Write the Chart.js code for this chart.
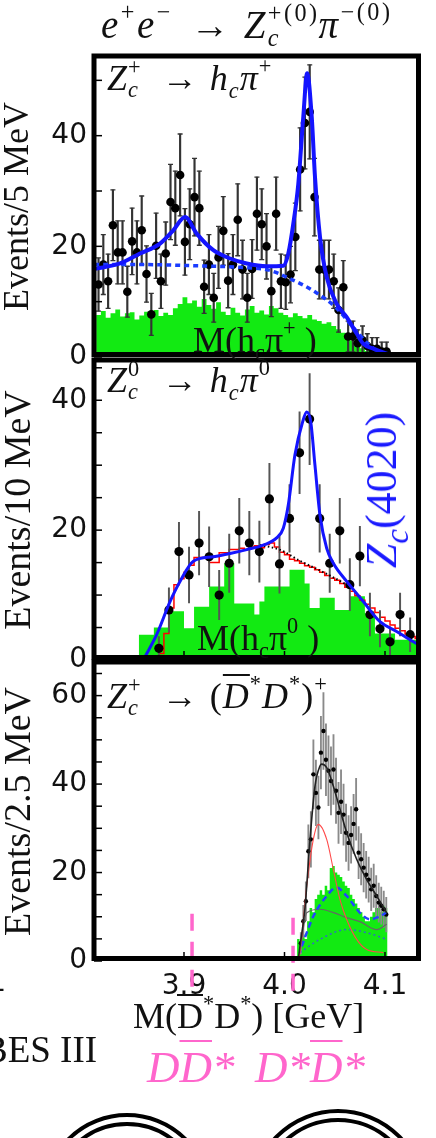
<!DOCTYPE html>
<html>
<head>
<meta charset="utf-8">
<script src="https://cdn.jsdelivr.net/npm/chart.js@4.4.1/dist/chart.umd.min.js"></script>
<style>
  html, body { margin:0; padding:0; background:#fff; }
  #page { position:relative; width:436px; height:1138px; overflow:hidden; background:#fff; }
  canvas { position:absolute; left:0; }
  .lbl { position:absolute; font-family:"Liberation Serif", "Times New Roman", serif; line-height:1; white-space:nowrap; color:#111; }
  .lbl i { font-style:italic; }
  .up, .dn { font-size:.62em; position:relative; }
  .up { top:-.75em; }
  .dn { top:.35em; }
  .ss { display:inline-block; position:relative; height:0; font-size:.62em; }
  .ss > span { position:absolute; left:0; line-height:1; white-space:nowrap; }
  .ss .a { bottom:.52em; }
  .ss .b { top:-.48em; }
  .ar { margin:0 .3em 0 .45em; }
  .ovl { text-decoration:overline; text-decoration-thickness:2px; }
  .ring { position:absolute; border:4.5px solid #000; border-radius:50%; box-sizing:border-box; }
</style>
</head>
<body>
<div id="page">
  <canvas id="c1" width="436" height="361" style="top:26px"></canvas>
  <canvas id="c2" width="436" height="360" style="top:330px"></canvas>
  <canvas id="c3" width="436" height="399" style="top:632px"></canvas>

  <div class="lbl" style="left:101px;top:5px;font-size:39px;letter-spacing:2.5px"><i>e</i><span class="up">+</span><i>e</i><span class="up">−</span><span class="ar">→</span><i>Z</i><span class="ss" style="width:2.1em"><span class="a">+(0)</span><span class="b"><i>c</i></span></span><i>π</i><span class="up">−(0)</span></div>

  <div class="lbl" style="left:107px;top:60px;font-size:36px;letter-spacing:1px"><i>Z</i><span class="ss" style="width:.8em"><span class="a">+</span><span class="b"><i>c</i></span></span><span class="ar">→</span><i>h</i><span class="dn"><i>c</i></span><i>π</i><span class="up">+</span></div>
  <div class="lbl" style="left:193px;top:322px;font-size:36px">M(h<span class="dn">c</span>π<span class="up">+</span> )</div>

  <div class="lbl" style="left:107px;top:362px;font-size:36px;letter-spacing:1px"><i>Z</i><span class="ss" style="width:.8em"><span class="a">0</span><span class="b"><i>c</i></span></span><span class="ar">→</span><i>h</i><span class="dn"><i>c</i></span><i>π</i><span class="up">0</span></div>
  <div class="lbl" style="left:197px;top:620px;font-size:36px">M(h<span class="dn">c</span>π<span class="up">0</span> )</div>
  <div class="lbl" style="left:382px;top:490px;font-size:44px;color:#1a1aff;transform:translate(-50%,-50%) rotate(-90deg)"><i>Z</i><span class="dn" style="font-size:.75em"><i>c</i></span>(4020)</div>

  <div class="lbl" style="left:107px;top:678px;font-size:36px;letter-spacing:1px"><i>Z</i><span class="ss" style="width:.8em"><span class="a">+</span><span class="b"><i>c</i></span></span><span class="ar">→</span>(<i class="ovl">D</i><span class="up">*</span><i>D</i><span class="up">*</span>)<span class="up">+</span></div>

  <div class="lbl" style="left:133px;top:998px;font-size:36px">M(<span class="ovl">D</span><span class="up">*</span>D<span class="up">*</span>) [GeV]</div>
  <div class="lbl" style="left:-17px;top:1031px;font-size:37px">BES III</div>
  <div class="lbl" style="left:-40px;top:968px;width:46px;text-align:right;font-family:'DejaVu Sans';font-size:28px">4.1</div>

  <div class="lbl" style="left:147px;top:1045px;font-size:45px;color:#ff66cc"><i>D</i><i class="ovl">D</i><i>*</i></div>
  <div class="lbl" style="left:255px;top:1045px;font-size:45px;color:#ff66cc"><i>D</i><i>*</i><i class="ovl">D</i><i>*</i></div>

  <div class="ring" style="left:42px;top:1113px;width:170px;height:170px"></div>
  <div class="ring" style="left:51px;top:1122px;width:152px;height:152px"></div>
  <div class="ring" style="left:250px;top:1109px;width:176px;height:176px"></div>
  <div class="ring" style="left:259px;top:1118px;width:158px;height:158px"></div>
</div>

<script>
// ---------------- panel 1 : Zc+ -> hc pi+  (5 MeV bins) ----------------
const p1BinStart = 3.8025, p1BinWidth = 0.005;
const p1Counts = [13.1, 16.7, 13.7, 23.8, 18.9, 18.9, 11.8, 20.9, 18.9, 22.9, 15.0, 7.7, 20.1, 13.7, 18.7, 28.0,
  26.9, 32.9, 20.8, 24.0, 28.9, 26.9, 12.7, 16.7, 10.7, 18.0, 22.8, 13.8, 16.7, 24.8, 15.8, 10.7, 15.9, 25.9,
  24.0, 20.0, 11.9, 25.9, 13.7, 13.5, 14.9, 21.7, 33.9, 42.3, 44.3, 28.9, 15.8, 15.8, 15.8, 13.7, 8.5, 12.6,
  3.7, 3.7, 2.5, 3.0, 2.0, 1.5, 1.5, 1.0, 1.0];
const p1Errors = [4.8, 5.4, 4.9, 6.4, 5.7, 5.7, 4.6, 6.0, 5.7, 6.2, 5.1, 3.8, 5.9, 4.9, 5.7, 6.8, 6.7, 7.4, 6.0,
  6.4, 7.0, 6.7, 4.8, 5.4, 4.4, 5.6, 6.2, 4.9, 5.4, 6.5, 5.3, 4.4, 5.3, 6.6, 6.4, 5.9, 4.6, 6.6, 4.9, 4.9, 5.1,
  6.1, 7.5, 8.3, 8.5, 7.0, 5.3, 5.3, 5.3, 4.9, 4.0, 4.8, 2.8, 2.8, 2.4, 2.6, 2.2, 2.0, 2.0, 1.7, 1.7];
const p1GreenStart = 3.800;
const p1Green = [7.6, 8.3, 7.1, 7.9, 8.6, 7.3, 7.9, 8.1, 6.8, 7.5, 8.2, 7.7, 8.5, 7.4, 8.0, 7.6, 8.8,
  9.6, 10.8, 9.7, 10.2, 9.1, 10.5, 9.4, 8.7, 9.9, 8.2, 7.6, 8.9, 8.0, 7.5, 8.6, 9.2, 8.0, 8.4, 7.7,
  9.2, 8.8, 8.0, 7.6, 7.2, 7.9, 7.4, 7.0, 7.6, 6.8, 6.5, 6.0, 6.3, 5.6, 5.0, 4.4, 3.6,
  3.0, 2.4, 1.6, 1.1, 0.6, 0.4, 0.2, 0.1, 0];
const p1FitX = [3.798, 3.8249, 3.8457, 3.8666, 3.8804, 3.8926, 3.9048, 3.9221, 3.9395, 3.9569, 3.9777, 3.9950,
  4.0002, 4.0054, 4.0106, 4.0158, 4.0198, 4.0246, 4.0280, 4.0332, 4.0402, 4.0506, 4.0610, 4.0715, 4.0783,
  4.0887, 4.1027, 4.1166];
const p1FitY = [15.9, 16.9, 18.7, 20.5, 22.9, 25.3, 22.3, 19.3, 17.8, 16.9, 16.4, 16.5, 18.7, 24.1, 31.3, 43.4,
  51.3, 43.4, 32.5, 21.7, 14.4, 9.6, 7.2, 4.2, 2.4, 1.5, 0.6, 0];
const p1BkgX = [3.798, 3.85, 3.90, 3.95, 3.98, 4.005, 4.026, 4.05, 4.068, 4.085, 4.10, 4.115];
const p1BkgY = [16.7, 16.7, 16.5, 16.2, 15.7, 13.9, 12.0, 8.9, 5.3, 2.1, 0.5, 0];
const p1YTicks = [0, 10, 20, 30, 40, 50];
const p1YLabels = [0, 20, 40];

// ---------------- panel 2 : Zc0 -> hc pi0  (10 MeV bins) ----------------
const p2BinStart = 3.875, p2BinWidth = 0.01;
const p2Counts = [1.8, 7.7, 16.7, 13.1, 18.0, 15.9, 10.0, 14.9, 19.9, 18.0, 16.7, 24.8, 14.8, 21.8, 31.9, 37.1,
  21.8, 14.9, 19.9, 11.6, 16.0, 7.0, 4.8, 2.8, 7.0, 3.9];
const p2Errors = [1.8, 3.4, 4.5, 4.3, 4.9, 4.6, 3.8, 4.5, 5.0, 4.9, 4.7, 5.5, 4.5, 5.2, 6.3, 7.0, 5.2, 4.5, 5.0,
  4.0, 4.6, 3.3, 2.8, 2.3, 3.3, 2.6];
const p2GreenStart = 3.855, p2StepWidth = 0.005;
const p2Green = [3.9, 3.9, 3.9, 5.0, 5.0, 5.0, 7.5, 7.5, 7.5, 4.9, 4.9, 8.2, 8.2, 8.2, 11.3, 11.3, 11.3, 14.9, 14.9,
  8.7, 8.7, 8.7, 8.7, 7.0, 9.0, 11.3, 11.3, 11.3, 11.3, 11.3, 13.9, 13.9, 13.9, 11.8, 8.0, 8.0, 9.6, 9.6, 9.6,
  7.7, 7.7, 7.7, 9.8, 9.8, 9.8, 7.2, 7.2, 4.1, 4.1, 4.1, 4.1, 3.1, 3.1, 3.1, 3.1, 3.1];
const p2RedStart = 3.875;
const p2Red = [1.0, 4.1, 8.0, 11.6, 12.5, 13.5, 14.6, 15.8, 15.8, 15.8, 15.0, 15.0, 16.5, 16.5, 17.0, 17.0, 17.2,
  17.0, 17.4, 17.6, 17.3, 17.8, 18.0, 17.4, 16.6, 16.2, 15.5, 15.3, 14.9, 14.5, 14.3, 13.9, 13.5, 13.0, 12.6,
  12.3, 11.8, 11.2, 10.6, 9.9, 9.2, 8.6, 8.0, 7.3, 6.6, 6.0, 5.4, 4.9, 4.5, 4.0, 3.6, 3.3];
const p2FitX = [3.8612, 3.8728, 3.8861, 3.8960, 3.9093, 3.9292, 3.9458, 3.9624, 3.9789, 3.9922, 3.9988, 4.0038,
  4.0104, 4.0181, 4.0221, 4.0261, 4.0303, 4.0353, 4.0420, 4.0486, 4.0619, 4.0784, 4.0950, 4.1116, 4.1282, 4.1333];
const p2FitY = [0.5, 3.9, 9.0, 12.1, 15.2, 15.9, 16.4, 17.0, 17.7, 18.8, 20.3, 23.9, 31.6, 36.7, 38.2, 36.7, 30.0,
  22.3, 17.2, 14.9, 12.1, 9.0, 5.9, 4.4, 2.8, 2.4];
const p2DotX = [3.9756, 3.995, 4.015, 4.035, 4.050, 4.0619];
const p2DotY = [17.7, 17.0, 15.3, 13.8, 12.6, 11.6];
const p2YTicks = [0, 5, 10, 15, 20, 25, 30, 35, 40, 45];
const p2YLabels = [0, 20, 40];

// ---------------- panel 3 : Zc+ -> (D*bar D*)+  (2.5 MeV bins) ----------------
const p3BinStart = 4.01625, p3BinWidth = 0.0025;
const p3Counts = [4.0, 9.0, 13.5, 24.8, 27.5, 42.2, 38.0, 34.7, 47.1, 52.0, 45.5, 43.0, 40.7, 43.3, 38.5, 33.5,
  36.0, 33.1, 29.0, 26.7, 28.5, 31.0, 34.3, 24.5, 23.0, 21.1, 19.5, 18.4, 16.2, 17.0, 14.7, 13.2, 12.5, 11.7, 10.5];
const p3Errors = [2.4, 3.6, 4.4, 6.0, 6.3, 7.8, 7.4, 7.1, 8.2, 8.7, 8.1, 7.9, 7.7, 7.9, 7.4, 6.9, 7.2, 6.9, 6.5,
  6.2, 6.4, 6.7, 7.0, 5.9, 5.8, 5.5, 5.3, 5.1, 4.8, 4.9, 4.6, 4.4, 4.2, 4.1, 3.9];
const p3GreenStart = 4.0125;
const p3Green = [5, 4, 6, 5, 9, 12, 11, 14, 15, 16, 15, 17, 16, 21, 21.5, 20, 19.5, 19, 18, 17, 16.5, 15, 14, 13,
  12, 11, 10, 9, 9, 10, 11, 12, 12, 11, 12.5, 12];
const p3FitX = [4.0135, 4.0154, 4.0204, 4.0254, 4.0303, 4.0353, 4.0370, 4.0420, 4.0486, 4.0552, 4.0619, 4.0718,
  4.0818, 4.0917, 4.1017];
const p3FitY = [0, 3.3, 12.0, 27.5, 39.5, 44.1, 44.5, 43.7, 39.5, 34.3, 29.0, 23.0, 18.4, 14.7, 10.9];
const p3SigX = [4.0135, 4.0154, 4.0221, 4.0287, 4.0336, 4.0420, 4.0486, 4.0552, 4.0619, 4.0718, 4.0818, 4.0983];
const p3SigY = [0, 1.9, 16.9, 27.5, 30.9, 27.5, 20.7, 13.9, 9.4, 4.9, 2.6, 1.9];
const p3BkgAX = [4.0171, 4.0287, 4.0420, 4.0519, 4.0619, 4.0751, 4.0851, 4.0950, 4.1010];
const p3BkgAY = [3.3, 10.1, 14.7, 16.6, 14.7, 10.9, 9.4, 10.1, 10.9];
const p3BkgBX = [4.0154, 4.0353, 4.0619, 4.0818, 4.1017];
const p3BkgBY = [1.9, 4.9, 7.1, 6.4, 4.9];
const p3GrayX = [4.0154, 4.0221, 4.0353, 4.0480, 4.0619, 4.0750, 4.0917, 4.1017];
const p3GrayY = [2.0, 10.9, 11.7, 11.0, 9.8, 8.9, 7.1, 8.3];
const p3YTicks = [0, 5, 10, 15, 20, 25, 30, 35, 40, 45, 50, 55, 60, 65];
const p3YLabels = [0, 20, 40, 60];
const thresholdMass = [3.908, 4.0085];     // D Dbar* and D* Dbar* markers
const thresholdTop = [10.7, 9.8];
const thresholdBottom = -7;

const xTicks = [3.9, 4.0, 4.1];

// ---------------- helpers ----------------
function centers(start, width, n) {
  return Array.from({length: n}, (_, i) => +(start + width * i).toFixed(5));
}
function xy(xs, ys) {
  return xs.map((x, i) => ({x: x, y: ys[i]}));
}
function steps(start, width, ys) {
  const pts = ys.map((y, i) => ({x: +(start + width * i).toFixed(5), y: y}));
  pts.push({x: +(start + width * ys.length).toFixed(5), y: ys[ys.length - 1]});
  return pts;
}
function points(xs, ys, r) {
  return { type: 'scatter', data: xy(xs, ys), pointRadius: r, pointBackgroundColor: '#000',
           pointBorderWidth: 0, order: 1 };
}
function errBars(xs, ys, errs, color, w) {
  return { type: 'bar', data: xs.map((x, i) => ({x: x, y: [ys[i] - errs[i], ys[i] + errs[i]]})),
           backgroundColor: color, barThickness: w, grouped: false, order: 3 };
}
function errCaps(xs, ys, errs, color) {
  const top = xs.map((x, i) => ({x: x, y: ys[i] + errs[i]}));
  const bot = xs.map((x, i) => ({x: x, y: ys[i] - errs[i]}));
  return { type: 'scatter', data: top.concat(bot), pointStyle: 'line', pointRadius: 2.5,
           pointBorderColor: color, pointBorderWidth: 1.3, order: 2 };
}
function curve(xs, ys, color, width, dash, order) {
  return { type: 'line', data: xy(xs, ys), borderColor: color, borderWidth: width, borderDash: dash || [],
           pointRadius: 0, fill: false, cubicInterpolationMode: 'monotone', order: order };
}
function histo(start, width, ys, fillColor, lineColor, lineWidth) {
  return { type: 'line', data: steps(start, width, ys), stepped: 'before', pointRadius: 0,
           fill: fillColor ? 'origin' : false, backgroundColor: fillColor || 'transparent',
           borderColor: lineColor || 'transparent', borderWidth: lineWidth || 0, order: fillColor ? 9 : 4 };
}

// thick frame + inward tick marks
const framePlugin = {
  id: 'frame',
  afterDraw(chart, args, opts) {
    const {ctx, chartArea: a, scales} = chart;
    ctx.save();
    ctx.strokeStyle = '#000';
    ctx.lineWidth = 1.5;
    scales.y.ticks.forEach(t => {
      const y = scales.y.getPixelForValue(t.value);
      ctx.beginPath(); ctx.moveTo(a.left, y); ctx.lineTo(a.left + 8, y); ctx.stroke();
    });
    (opts.xMarks || []).forEach(v => {
      const x = scales.x.getPixelForValue(v);
      ctx.beginPath(); ctx.moveTo(x, a.bottom); ctx.lineTo(x, a.bottom - 9); ctx.stroke();
    });
    ctx.lineWidth = 5;
    ctx.strokeRect(a.left, a.top, a.right - a.left, a.bottom - a.top - 2.5);
    ctx.restore();
  }
};

function makeChart(id, cfg) {
  return new Chart(document.getElementById(id).getContext('2d'), {
    type: 'scatter',
    data: { datasets: cfg.datasets },
    options: {
      responsive: false,
      animation: false,
      devicePixelRatio: 1,
      layout: { padding: { top: 30, bottom: cfg.padBottom, left: 0, right: 17.5 } },
      plugins: { legend: { display: false }, tooltip: { enabled: false }, frame: { xMarks: cfg.xMarks } },
      scales: {
        x: {
          type: 'linear', min: cfg.xMin, max: cfg.xMax, offset: false, display: cfg.showX,
          afterFit: s => { if (cfg.showX) s.height = 60; },
          afterBuildTicks: s => { s.ticks = xTicks.map(v => ({value: v})); },
          grid: { display: false, drawTicks: false, offset: false },
          border: { display: false },
          ticks: { autoSkip: false, maxRotation: 0, padding: 9, color: '#111',
                   font: { family: 'DejaVu Sans', size: 28 }, callback: v => v.toFixed(1) }
        },
        y: {
          type: 'linear', min: 0, max: cfg.yMax,
          afterFit: s => { s.width = 94; },
          afterBuildTicks: s => { s.ticks = cfg.yTicks.map(v => ({value: v})); },
          grid: { display: false, drawTicks: false },
          border: { display: false },
          ticks: { autoSkip: false, padding: 7, color: '#111', font: { family: 'DejaVu Sans', size: 28 },
                   callback: v => cfg.yLabels.includes(v) ? String(v) : '' },
          title: { display: true, text: cfg.yTitle, color: '#111',
                   font: { family: "'Liberation Serif', serif", size: cfg.yTitleSize, lineHeight: 1 },
                   padding: { top: 1, bottom: 0 } }
        }
      }
    },
    plugins: [framePlugin]
  });
}

// ---------------- panel 1 ----------------
const p1X = centers(p1BinStart, p1BinWidth, p1Counts.length);
makeChart('c1', {
  xMin: 3.7978, xMax: 4.1358, yMax: 54.4, padBottom: 30, showX: false,
  yTicks: p1YTicks, yLabels: p1YLabels, yTitle: 'Events/5 MeV', yTitleSize: 36,
  datasets: [
    curve(p1FitX, p1FitY, '#1414ff', 4, [], 0),
    curve(p1BkgX, p1BkgY, '#1a3cff', 3.5, [5, 4], 0),
    points(p1X, p1Counts, 4.3),
    errCaps(p1X, p1Counts, p1Errors, '#333'),
    errBars(p1X, p1Counts, p1Errors, '#333', 1.5),
    histo(p1GreenStart, p1BinWidth, p1Green, '#12ea12')
  ]
});

// ---------------- panel 2 ----------------
const p2X = centers(p2BinStart, p2BinWidth, p2Counts.length);
makeChart('c2', {
  xMin: 3.81045, xMax: 4.13333, yMax: 46.2, padBottom: 30, showX: false, xMarks: xTicks,
  yTicks: p2YTicks, yLabels: p2YLabels, yTitle: 'Events/10 MeV', yTitleSize: 38,
  datasets: [
    curve(p2FitX, p2FitY, '#1414ff', 3, [], 0),
    points(p2X, p2Counts, 4.6),
    curve(p2DotX, p2DotY, '#000', 2, [1.5, 2.5], 2),
    histo(p2RedStart, p2StepWidth, p2Red, null, '#ff0000', 1.5),
    errBars(p2X, p2Counts, p2Errors, '#555', 1.3),
    histo(p2GreenStart, p2StepWidth, p2Green, '#12ea12')
  ]
});

// ---------------- panel 3 ----------------
const p3X = centers(p3BinStart, p3BinWidth, p3Counts.length);
const thresholdSets = thresholdMass.map((m, i) => ({
  type: 'line', data: [{x: m, y: thresholdTop[i]}, {x: m, y: thresholdBottom}],
  borderColor: '#ff66cc', borderWidth: 3.5, borderDash: [17, 11], pointRadius: 0, clip: false, order: 0
}));
makeChart('c3', {
  xMin: 3.81045, xMax: 4.13333, yMax: 67.6, padBottom: 10, showX: true, xMarks: xTicks,
  yTicks: p3YTicks, yLabels: p3YLabels, yTitle: 'Events/2.5 MeV', yTitleSize: 38,
  datasets: thresholdSets.concat([
    curve(p3FitX, p3FitY, '#222', 1.6, [], 0),
    curve(p3SigX, p3SigY, '#ff4a4a', 1.1, [], 0),
    curve(p3BkgAX, p3BkgAY, '#2244ff', 2.5, [6, 4], 0),
    curve(p3BkgBX, p3BkgBY, '#3366cc', 1.5, [2, 3], 0),
    curve(p3GrayX, p3GrayY, '#666', 1.2, [], 0),
    points(p3X, p3Counts, 2.2),
    errBars(p3X, p3Counts, p3Errors, '#8a8a8a', 1.2),
    histo(p3GreenStart, p3BinWidth, p3Green, '#12ea12')
  ])
});
</script>
</body>
</html>
